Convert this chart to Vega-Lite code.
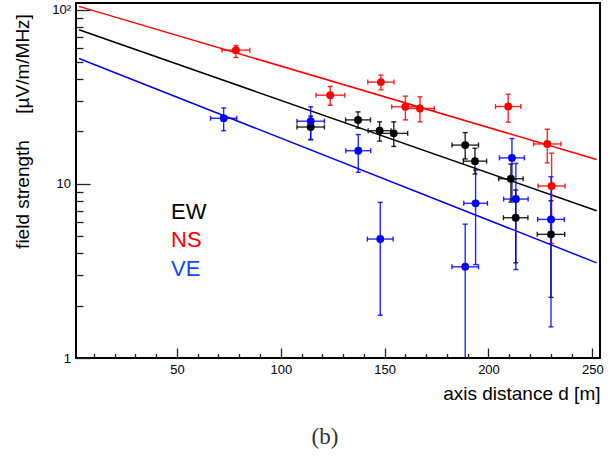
{
  "$schema": "https://vega.github.io/schema/vega-lite/v6.json",
  "autosize": "none",
  "width": 524,
  "height": 355,
  "padding": {"left": 76, "top": 3, "right": 16, "bottom": 99},
  "background": "white",
  "title": {"text": "(b)", "orient": "bottom", "anchor": "middle", "frame": "group", "font": "Liberation Serif", "fontSize": 23, "fontWeight": "normal", "color": "#333333", "dx": -13, "offset": 22},
  "config": {
    "font": "Liberation Sans",
    "view": {"stroke": "black", "strokeWidth": 2},
    "axis": {"domain": false, "grid": false, "tickColor": "#222222", "tickWidth": 1.3, "labelColor": "black", "labelFontSize": 13, "labelFlush": false, "labelOverlap": false, "titleFontWeight": "normal", "titleColor": "black", "titleFontSize": 19}
  },
  "datasets": {
    "pts": [
      {"series": "EW", "d": 114.4, "v": 21.2, "dlo": 107.8, "dhi": 121.0, "vlo": 18.0, "vhi": 24.5},
      {"series": "EW", "d": 137.2, "v": 23.3, "dlo": 131.2, "dhi": 143.2, "vlo": 20.9, "vhi": 25.9},
      {"series": "EW", "d": 147.6, "v": 20.2, "dlo": 142.1, "dhi": 153.1, "vlo": 17.6, "vhi": 22.7},
      {"series": "EW", "d": 154.4, "v": 19.5, "dlo": 147.7, "dhi": 161.1, "vlo": 16.4, "vhi": 22.7},
      {"series": "EW", "d": 188.8, "v": 16.7, "dlo": 182.4, "dhi": 195.2, "vlo": 13.9, "vhi": 19.7},
      {"series": "EW", "d": 193.5, "v": 13.5, "dlo": 187.9, "dhi": 199.1, "vlo": 11.4, "vhi": 16.0},
      {"series": "EW", "d": 210.8, "v": 10.7, "dlo": 204.9, "dhi": 216.7, "vlo": 7.86, "vhi": 13.0},
      {"series": "EW", "d": 213.1, "v": 6.39, "dlo": 207.2, "dhi": 219.0, "vlo": 3.52, "vhi": 9.22},
      {"series": "EW", "d": 230.1, "v": 5.13, "dlo": 223.5, "dhi": 236.7, "vlo": 2.23, "vhi": 8.0},
      {"series": "NS", "d": 78.4, "v": 58.6, "dlo": 71.7, "dhi": 85.1, "vlo": 53.2, "vhi": 62.3},
      {"series": "NS", "d": 123.8, "v": 32.3, "dlo": 117.0, "dhi": 130.8, "vlo": 28.3, "vhi": 36.2},
      {"series": "NS", "d": 148.2, "v": 38.4, "dlo": 141.9, "dhi": 154.5, "vlo": 34.7, "vhi": 42.1},
      {"series": "NS", "d": 160.0, "v": 27.7, "dlo": 153.4, "dhi": 166.9, "vlo": 23.3, "vhi": 31.9},
      {"series": "NS", "d": 167.0, "v": 27.1, "dlo": 160.1, "dhi": 173.9, "vlo": 22.7, "vhi": 31.6},
      {"series": "NS", "d": 209.5, "v": 27.8, "dlo": 203.4, "dhi": 215.6, "vlo": 22.6, "vhi": 32.7},
      {"series": "NS", "d": 228.3, "v": 16.95, "dlo": 221.7, "dhi": 234.9, "vlo": 13.2, "vhi": 20.6},
      {"series": "NS", "d": 230.4, "v": 9.72, "dlo": 223.9, "dhi": 236.9, "vlo": 4.55, "vhi": 15.0},
      {"series": "VE", "d": 72.5, "v": 23.8, "dlo": 66.2, "dhi": 78.8, "vlo": 20.2, "vhi": 27.3},
      {"series": "VE", "d": 114.4, "v": 22.9, "dlo": 107.8, "dhi": 121.0, "vlo": 17.9, "vhi": 27.7},
      {"series": "VE", "d": 137.3, "v": 15.5, "dlo": 131.3, "dhi": 143.3, "vlo": 11.65, "vhi": 19.2},
      {"series": "VE", "d": 147.9, "v": 4.82, "dlo": 141.7, "dhi": 154.1, "vlo": 1.76, "vhi": 7.83},
      {"series": "VE", "d": 188.8, "v": 3.34, "dlo": 182.4, "dhi": 195.2, "vlo": 0.5, "vhi": 5.87},
      {"series": "VE", "d": 193.8, "v": 7.73, "dlo": 188.1, "dhi": 199.5, "vlo": 3.44, "vhi": 12.0},
      {"series": "VE", "d": 211.3, "v": 14.1, "dlo": 205.3, "dhi": 217.3, "vlo": 8.07, "vhi": 18.2},
      {"series": "VE", "d": 213.2, "v": 8.18, "dlo": 207.3, "dhi": 219.1, "vlo": 3.22, "vhi": 13.1},
      {"series": "VE", "d": 230.1, "v": 6.25, "dlo": 223.7, "dhi": 236.5, "vlo": 1.51, "vhi": 11.0}
    ],
    "fit": [
      {"series": "EW", "d": 2.84, "v": 76.7},
      {"series": "EW", "d": 252.1, "v": 7.01},
      {"series": "NS", "d": 2.84, "v": 104.5},
      {"series": "NS", "d": 252.1, "v": 13.8},
      {"series": "VE", "d": 2.84, "v": 52.5},
      {"series": "VE", "d": 252.1, "v": 3.52}
    ]
  },
  "resolve": {"axis": {"x": "independent", "y": "independent"}, "legend": {"color": "independent"}},
  "layer": [
    {
      "data": {"name": "fit"},
      "mark": {"type": "line", "strokeWidth": 1.5},
      "encoding": {
        "x": {"field": "d", "type": "quantitative", "scale": {"domain": [1.4, 253.7], "nice": false, "zero": false},
              "axis": {"orient": "bottom", "values": [10,20,30,40,60,70,80,90,110,120,130,140,160,170,180,190,210,220,230,240], "tickSize": -4.5, "labels": false, "title": null}},
        "y": {"field": "v", "type": "quantitative", "scale": {"type": "log", "domain": [1, 109.3], "nice": false},
              "axis": {"orient": "left", "values": [2,3,4,5,6,7,8,9,20,30,40,50,60,70,80,90], "tickSize": -7, "labels": false, "title": null}},
        "color": {"field": "series", "type": "nominal", "scale": {"domain": ["EW", "NS", "VE"], "range": ["#000000", "#ff0000", "#0000ff"]}, "legend": null},
        "detail": {"field": "series"}
      }
    },
    {
      "data": {"name": "pts"},
      "mark": {"type": "errorbar", "clip": true, "thickness": 1.4, "opacity": 0.85, "ticks": {"size": 5, "thickness": 1.4}},
      "encoding": {
        "x": {"field": "d", "type": "quantitative", "axis": null},
        "y": {"field": "vlo", "type": "quantitative", "axis": null},
        "y2": {"field": "vhi"},
        "color": {"field": "series", "type": "nominal", "legend": null}
      }
    },
    {
      "data": {"name": "pts"},
      "mark": {"type": "errorbar", "clip": true, "thickness": 1.4, "opacity": 0.85, "ticks": {"size": 5, "thickness": 1.4}},
      "encoding": {
        "y": {"field": "v", "type": "quantitative", "axis": null},
        "x": {"field": "dlo", "type": "quantitative", "axis": null},
        "x2": {"field": "dhi"},
        "color": {"field": "series", "type": "nominal", "legend": null}
      }
    },
    {
      "data": {"name": "pts"},
      "mark": {"type": "circle", "size": 62, "opacity": 1},
      "encoding": {
        "x": {"field": "d", "type": "quantitative",
              "axis": {"orient": "bottom", "values": [50, 100, 150, 200, 250], "tickSize": -10, "labelPadding": 15.5,
                       "title": "axis distance d [m]", "titleX": 524, "titleY": 41.5, "titleAlign": "right", "titleBaseline": "alphabetic", "titleAnchor": "end"}},
        "y": {"field": "v", "type": "quantitative",
              "axis": {"orient": "left", "values": [1, 10, 100], "tickSize": -14, "labelPadding": 19.5,
                       "labelExpr": "datum.value == 100 ? '10²' : datum.label",
                       "title": "field strength\u00a0\u00a0\u00a0\u00a0\u00a0[µV/m/MHz]", "titleX": -54, "titleY": 128, "titleAngle": -90, "titleAlign": "center", "titleBaseline": "middle"}},
        "color": {"field": "series", "type": "nominal",
                  "legend": {"orient": "none", "legendX": 73, "legendY": 197.5, "title": null, "symbolSize": 0, "symbolStrokeWidth": 0, "symbolOpacity": 0, "labelOffset": 0, "labelFontSize": 22, "rowPadding": 6.5, "padding": 0,
                             "labelLimit": 200,
                             "encode": {"labels": {"update": {"fill": {"signal": "datum.value === 'VE' ? '#0d47ff' : scale('color', datum.value)"}}}}}}
      }
    }
  ]
}
